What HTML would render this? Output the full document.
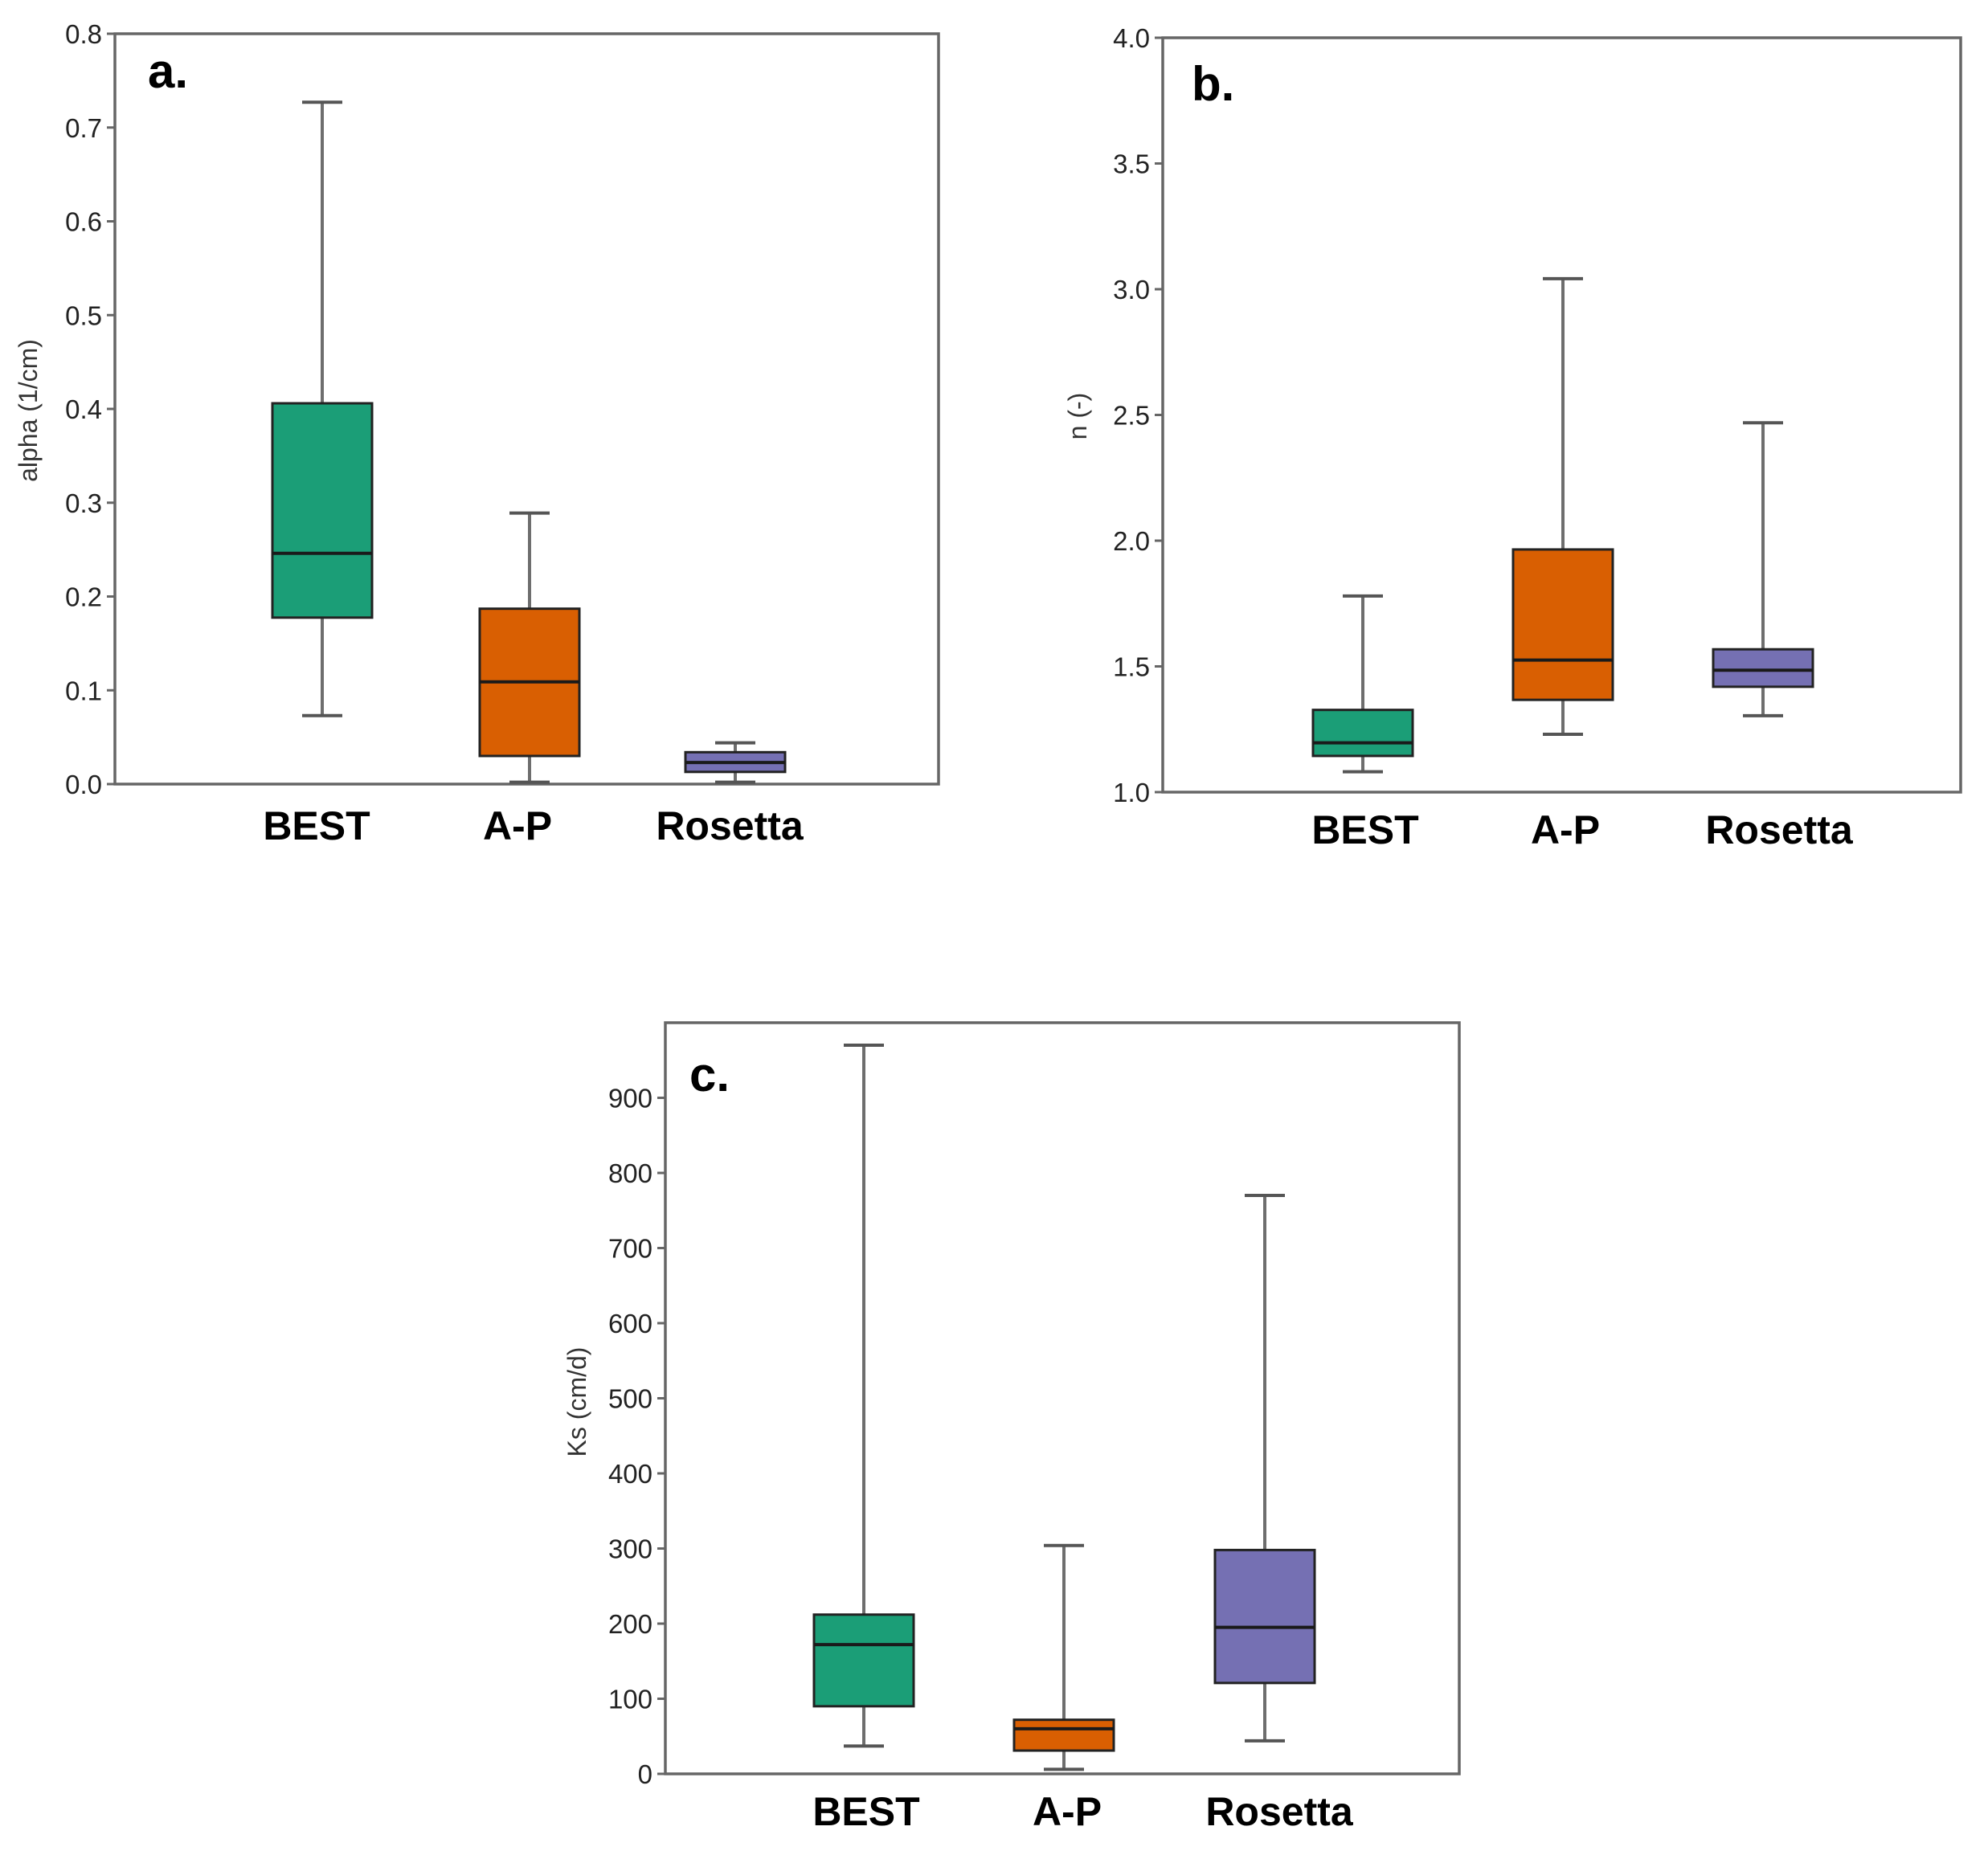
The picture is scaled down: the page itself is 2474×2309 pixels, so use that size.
<!DOCTYPE html>
<html><head><meta charset="utf-8"><style>
html,body{margin:0;padding:0;background:#fff;}
svg{display:block;}
</style></head><body>
<svg id="fig" width="2474" height="2309" viewBox="0 0 2474 2309" xmlns="http://www.w3.org/2000/svg"></svg>
<script>
const categories = ["BEST", "A-P", "Rosetta"];
const colors = ["#1b9e77", "#d95f02", "#7570b3"];
// [min, q1, median, q3, max]
const alphaStats = [[0.073,0.1775,0.246,0.406,0.727],[0.002,0.030,0.109,0.187,0.289],[0.002,0.013,0.023,0.034,0.044]];
const nStats = [[1.081,1.144,1.196,1.327,1.78],[1.23,1.367,1.525,1.965,3.042],[1.304,1.419,1.485,1.568,2.469]];
const ksStats = [[37,90,172,212,970],[6,31,60,72,304],[44,121,195,298,770]];
const alphaTicks = ["0.0","0.1","0.2","0.3","0.4","0.5","0.6","0.7","0.8"];
const nTicks = ["1.0","1.5","2.0","2.5","3.0","3.5","4.0"];
const ksTicks = ["0","100","200","300","400","500","600","700","800","900"];

const NS = "http://www.w3.org/2000/svg";
const svg = document.getElementById('fig');
function mk(tag, attrs, parent){const e=document.createElementNS(NS,tag);for(const k in attrs)e.setAttribute(k,attrs[k]);(parent||svg).appendChild(e);return e;}

function panel(cfg){
  const g = mk('g',{});
  
  
  const y = v => cfg.bottom - (v - cfg.vmin)/(cfg.vmax - cfg.vmin)*(cfg.bottom - cfg.top);
  const frame = mk('rect',{x:cfg.left,y:cfg.top,width:cfg.right-cfg.left,height:cfg.bottom-cfg.top,fill:'none',stroke:'#666',"stroke-width":3.5},g);
  
  
  cfg.ticks.forEach(t=>{
    const v=parseFloat(t), yy=y(v);
    const tk = mk('line',{x1:cfg.left-10,x2:cfg.left,y1:yy,y2:yy,stroke:'#666',"stroke-width":3},g);
    
    
    const tl = mk('text',{x:cfg.left-16,y:yy+12,"text-anchor":"end","font-family":"Liberation Sans, sans-serif","font-size":33,fill:'#222'},g);
    tl.textContent=t;
    
    
  });
  const yt = mk('text',{x:0,y:0,transform:`translate(${cfg.titleX},${cfg.titleY}) rotate(-90)`,"text-anchor":"middle","font-family":"Liberation Sans, sans-serif","font-size":32,fill:'#333'},g);
  yt.textContent=cfg.title;
  
  
  const pl = mk('text',{x:cfg.tagX,y:cfg.tagY,"font-family":"Liberation Sans, sans-serif","font-weight":"bold","font-size":60,fill:'#000'},g);
  pl.textContent=cfg.tag;
  
  
  cfg.stats.forEach((s,i)=>{
    const cx=cfg.centers[i], hw=62, cw=25;
    const bg = mk('g',{},g);
    
    
    mk('line',{x1:cx,x2:cx,y1:y(s[0]),y2:y(s[1]),stroke:'#6e6e6e',"stroke-width":4},bg);
    mk('line',{x1:cx,x2:cx,y1:y(s[3]),y2:y(s[4]),stroke:'#6e6e6e',"stroke-width":4},bg);
    mk('line',{x1:cx-cw,x2:cx+cw,y1:y(s[0]),y2:y(s[0]),stroke:'#555',"stroke-width":4},bg);
    mk('line',{x1:cx-cw,x2:cx+cw,y1:y(s[4]),y2:y(s[4]),stroke:'#555',"stroke-width":4},bg);
    mk('rect',{x:cx-hw,y:y(s[3]),width:2*hw,height:y(s[1])-y(s[3]),fill:colors[i],stroke:'#222',"stroke-width":3},bg);
    mk('line',{x1:cx-hw,x2:cx+hw,y1:y(s[2]),y2:y(s[2]),stroke:'#1a1a1a',"stroke-width":4},bg);
    const cl = mk('text',{x:cfg.labelX[i],y:cfg.labelY,"text-anchor":"middle","font-family":"Liberation Sans, sans-serif","font-weight":"bold","font-size":50,fill:'#000'},g);
    cl.textContent=categories[i];
    
    
  });
}

panel({name:'panel-a-alpha',left:143,right:1168,top:42,bottom:976,vmin:0,vmax:0.8,ticks:alphaTicks,stats:alphaStats,
  centers:[401,659,915],labelX:[394,644,908],labelY:1045,title:'alpha (1/cm)',titleX:46,titleY:511,tag:'a.',tagX:184,tagY:109});
panel({name:'panel-b-n',left:1447,right:2440,top:47,bottom:986,vmin:1,vmax:4,ticks:nTicks,stats:nStats,
  centers:[1696,1945,2194],labelX:[1699,1948,2214],labelY:1050,title:'n (-)',titleX:1352,titleY:518,tag:'b.',tagX:1483,tagY:125});
panel({name:'panel-c-ks',left:828,right:1816,top:1273,bottom:2208,vmin:0,vmax:1000,ticks:ksTicks,stats:ksStats,
  centers:[1075,1324,1574],labelX:[1078,1328,1592],labelY:2272,title:'Ks (cm/d)',titleX:729,titleY:1745,tag:'c.',tagX:858,tagY:1358});
</script>
</body></html>
